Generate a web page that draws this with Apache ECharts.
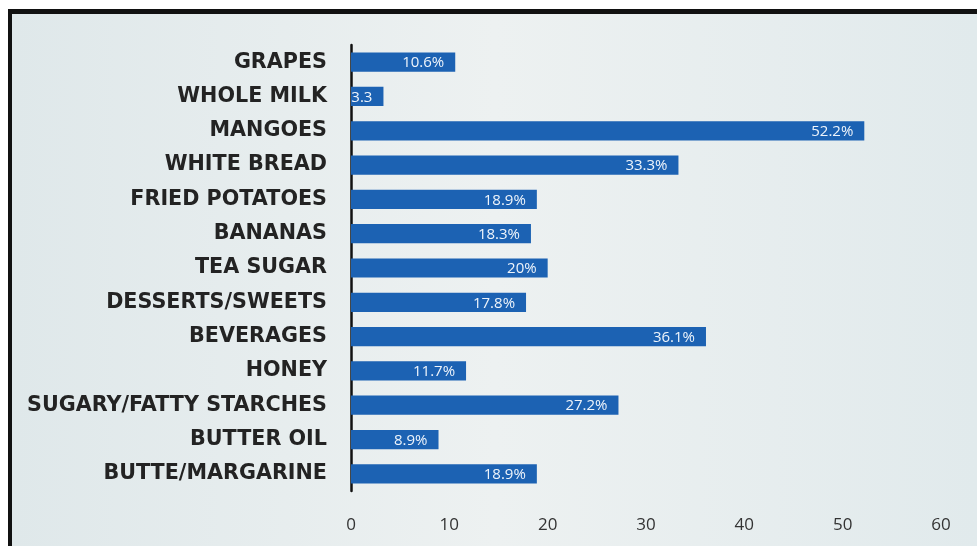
<!DOCTYPE html>
<html><head><meta charset="utf-8">
<script src="https://cdn.jsdelivr.net/npm/echarts@6/dist/echarts.min.js"></script>
<style>
html,body{margin:0;padding:0;background:#fff;}
#frame{position:absolute;left:8px;top:9px;width:969px;height:537px;border-top:5px solid #111;border-left:4px solid #111;background:linear-gradient(90deg,#dfe8ea 0%,#edf1f1 50%,#e1eaec 100%);box-sizing:border-box;}
#chart{position:absolute;left:0;top:0;width:977px;height:546px;}
</style></head>
<body><div id="frame"></div><div id="chart"></div>
<script>
const categories = ['GRAPES','WHOLE MILK','MANGOES','WHITE BREAD','FRIED POTATOES','BANANAS','TEA SUGAR','DESSERTS/SWEETS','BEVERAGES','HONEY','SUGARY/FATTY STARCHES','BUTTER OIL','BUTTE/MARGARINE'];
const values = [10.6,3.3,52.2,33.3,18.9,18.3,20,17.8,36.1,11.7,27.2,8.9,18.9];
const valueLabels = ['10.6%','3.3','52.2%','33.3%','18.9%','18.3%','20%','17.8%','36.1%','11.7%','27.2%','8.9%','18.9%'];
const xTicks = [0,10,20,30,40,50,60];

const chart = echarts.init(document.getElementById('chart'));
chart.setOption({
  backgroundColor: 'transparent',
  animation: false,
  grid: {left: 351, right: 36, top: 45, bottom: 55},
  xAxis: {
    type: 'value', min: xTicks[0], max: xTicks[xTicks.length-1], interval: 10,
    axisLine: {show: false}, axisTick: {show: false}, splitLine: {show: false},
    axisLabel: {color: '#333', fontSize: 17, fontFamily: 'Open Sans', margin: 26}
  },
  yAxis: {
    type: 'category', data: categories, inverse: true,
    axisLine: {show: true, lineStyle: {color: '#111', width: 2.5}},
    axisTick: {show: false},
    axisLabel: {color: '#232323', fontSize: 20.7, fontWeight: 'bold', fontFamily: 'DejaVu Sans', margin: 24}
  },
  series: [{
    type: 'bar', data: values, barWidth: '56%',
    itemStyle: {color: '#1c62b3'},
    label: {show: true, position: 'insideRight', color: '#eef4fb', fontSize: 15, fontFamily: 'Open Sans', offset: [-6, 1],
      formatter: p => valueLabels[p.dataIndex]}
  }]
});
</script></body></html>
